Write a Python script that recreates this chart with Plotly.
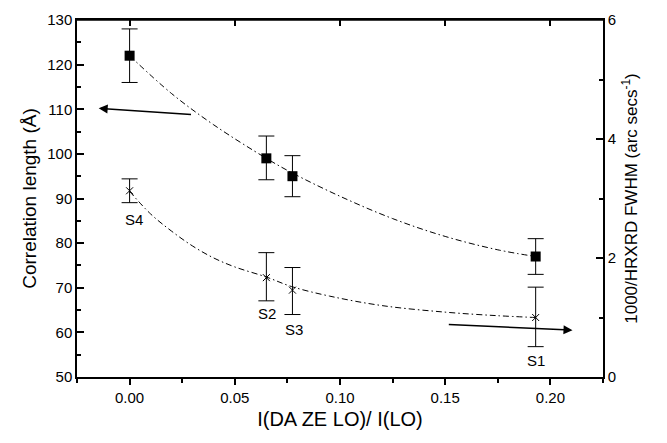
import plotly.graph_objects as go

# Correlation length (left axis), squares
x_pts = [0.0, 0.065, 0.0774, 0.193]
corr_len = [122.0, 99.0, 95.0, 77.0]
corr_err_plus = [6.0, 5.0, 4.6, 4.0]
corr_err_minus = [6.0, 4.8, 4.6, 4.0]

# 1000/HRXRD FWHM (right axis), crosses
fwhm_inv = [3.13, 1.67, 1.46, 1.0]
fwhm_err_plus = [0.20, 0.42, 0.38, 0.51]
fwhm_err_minus = [0.20, 0.39, 0.41, 0.49]

sample_labels = ["S4", "S2", "S3", "S1"]
label_x = [0.002, 0.0655, 0.078, 0.193]
label_y = [85.4, 64.2, 60.6, 53.7]

# Fitted guide curves
fit_up_x = [0.0, 0.02, 0.04, 0.065, 0.077, 0.1, 0.125, 0.15, 0.175, 0.193]
fit_up_y = [122.0, 113.5, 106.5, 99.0, 95.8, 90.5, 85.5, 81.5, 78.5, 77.0]
fit_lo_x = [0.0, 0.01, 0.02, 0.03, 0.04, 0.05, 0.065, 0.077, 0.095, 0.12, 0.15, 0.175, 0.193]
fit_lo_y = [3.12, 2.74, 2.45, 2.2, 2.0, 1.85, 1.68, 1.52, 1.36, 1.2, 1.09, 1.03, 1.0]

x_ticks = [0.0, 0.05, 0.10, 0.15, 0.20]
x_tick_text = ["0.00", "0.05", "0.10", "0.15", "0.20"]

FONT = "Liberation Sans, Arial, Helvetica, sans-serif"
DASH = "6px,3px,1.5px,3px"

fig = go.Figure()

fig.add_trace(go.Scatter(x=fit_up_x, y=fit_up_y, mode="lines", line=dict(color="black", width=1, dash=DASH, shape="spline"),
                         showlegend=False, hoverinfo="skip"))
fig.add_trace(go.Scatter(x=fit_lo_x, y=fit_lo_y, mode="lines", line=dict(color="black", width=1, dash=DASH, shape="spline"),
                         yaxis="y2", showlegend=False, hoverinfo="skip"))

fig.add_trace(go.Scatter(x=x_pts, y=corr_len, mode="markers",
                         marker=dict(symbol="square", size=10, color="black"),
                         error_y=dict(type="data", array=corr_err_plus, arrayminus=corr_err_minus,
                                      color="black", thickness=1, width=8),
                         showlegend=False))
fig.add_trace(go.Scatter(x=x_pts, y=fwhm_inv, mode="markers", yaxis="y2",
                         marker=dict(symbol="x-thin-open", size=7, color="black", line=dict(color="black", width=1)),
                         error_y=dict(type="data", array=fwhm_err_plus, arrayminus=fwhm_err_minus,
                                      color="black", thickness=1, width=8),
                         showlegend=False))

# invisible trace that activates the top axis (inside ticks)
fig.add_trace(go.Scatter(x=[0.0], y=[90.0], xaxis="x2", yaxis="y", mode="markers",
                         marker=dict(size=1, color="rgba(0,0,0,0)"),
                         showlegend=False, hoverinfo="skip"))

annotations = []
for t, lx, ly in zip(sample_labels, label_x, label_y):
    annotations.append(dict(x=lx, y=ly, xref="x", yref="y", text=t, showarrow=False,
                            font=dict(family=FONT, size=15, color="black")))

# arrows
annotations.append(dict(x=-0.0147, y=110.2, ax=0.0299, ay=108.8, xref="x", yref="y", axref="x", ayref="y",
                        text="", showarrow=True, arrowhead=2, arrowsize=1.2, arrowwidth=1.5, arrowcolor="black"))
annotations.append(dict(x=0.2105, y=60.5, ax=0.151, ay=61.8, xref="x", yref="y", axref="x", ayref="y",
                        text="", showarrow=True, arrowhead=2, arrowsize=1.2, arrowwidth=1.5, arrowcolor="black"))

fig.update_layout(
    width=667, height=443,
    margin=dict(l=77, r=64, t=11, b=66),
    plot_bgcolor="white", paper_bgcolor="white",
    font=dict(family=FONT, size=15, color="black"),
    annotations=annotations,
    shapes=[dict(type="line", xref="paper", yref="paper", x0=0, x1=1, y0=1, y1=1,
                 line=dict(color="black", width=1.5))],
    xaxis=dict(range=[-0.025, 0.225], tickvals=x_ticks, ticktext=x_tick_text,
               ticks="outside", ticklen=6, tickwidth=1.5, tickcolor="black",
               minor=dict(dtick=0.025, tick0=0, ticks="outside", ticklen=4, tickwidth=1.5, tickcolor="black"),
               showline=True, linecolor="black", linewidth=1.5, mirror=True, showgrid=False, zeroline=False,
               title=dict(text="I(DA ZE LO)/ I(LO)", font=dict(size=20), standoff=7),
               tickfont=dict(size=15)),
    xaxis2=dict(range=[-0.025, 0.225], overlaying="x", side="top", anchor="y", tickvals=x_ticks,
                showticklabels=False,
                ticks="inside", ticklen=6, tickwidth=1.5, tickcolor="black",
                showline=True, linecolor="black", linewidth=1.5, showgrid=False, zeroline=False),
    yaxis=dict(range=[50, 130], dtick=10, ticks="inside", ticklen=7, tickwidth=1.5, tickcolor="black",
               minor=dict(dtick=5, ticks="inside", ticklen=4, tickwidth=1.5, tickcolor="black"),
               showline=True, linecolor="black", linewidth=1.5, showgrid=False, zeroline=False,
               ticklabeloverflow="allow",
               title=dict(text="Correlation length (Å)", font=dict(size=19), standoff=6),
               tickfont=dict(size=15)),
    yaxis2=dict(range=[0, 6], dtick=2, overlaying="y", side="right", ticks="inside", ticklen=7, tickwidth=1.5,
                tickcolor="black",
                minor=dict(dtick=1, ticks="inside", ticklen=4, tickwidth=1.5, tickcolor="black"),
                showline=True, linecolor="black", linewidth=1.5, showgrid=False, zeroline=False,
                ticklabeloverflow="allow",
                title=dict(text="1000/HRXRD FWHM (arc secs<sup>-1</sup>)", font=dict(size=17), standoff=10),
                tickfont=dict(size=15)),
)

# remove the browser's default 8px body margin so the figure sits at the window origin
fig.write_html("out.html", config={"displayModeBar": False},
               post_script="document.body.style.margin='0';")
